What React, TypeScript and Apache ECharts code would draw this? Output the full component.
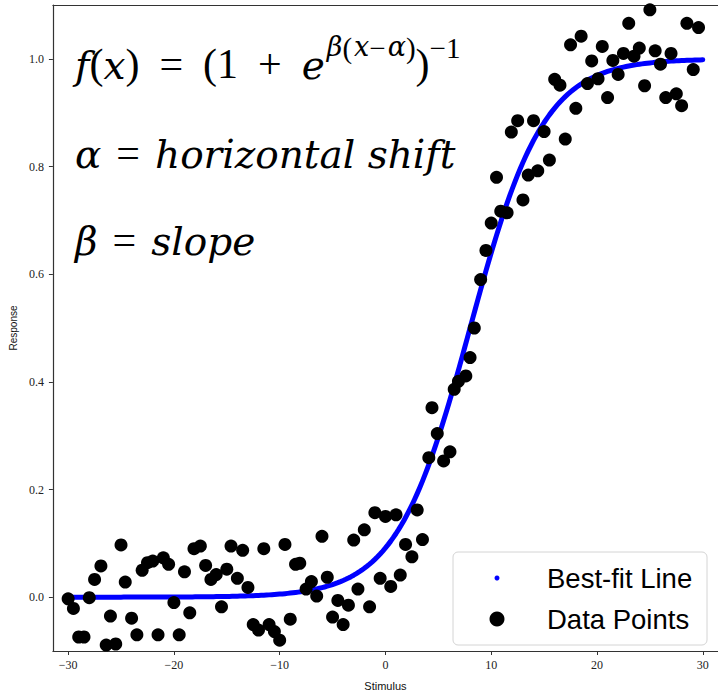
import React, { useEffect, useRef } from "react";
import * as echarts from "echarts";

// Observed stimulus levels and measured responses
const stimulus = [
  -30.0, -29.5, -29.0, -28.5, -28.0, -27.5, -26.9, -26.4, -26.0, -25.5,
  -25.0, -24.6, -24.0, -23.5, -23.0, -22.5, -22.0, -21.5, -21.0, -20.5,
  -20.0, -19.5, -19.0, -18.5, -18.1, -17.5, -17.0, -16.5, -16.0, -15.5,
  -15.0, -14.6, -14.0, -13.5, -13.0, -12.5, -12.0, -11.5, -11.0, -10.5,
  -10.0, -9.5, -9.0, -8.5, -8.1, -7.5, -7.0, -6.5, -6.0, -5.5,
  -5.0, -4.5, -4.0, -3.5, -3.0, -2.6, -2.0, -1.5, -1.0, -0.5,
  0.0, 0.5, 1.0, 1.4, 1.9, 2.5, 3.0, 3.5, 4.1, 4.4,
  4.9, 5.5, 6.1, 6.5, 6.9, 7.6, 8.0, 8.4, 9.0, 9.5,
  10.0, 10.5, 10.9, 11.5, 11.9, 12.5, 13.0, 13.5, 14.0, 14.4,
  15.0, 15.5, 16.0, 16.5, 17.0, 17.5, 18.0, 18.5, 19.1, 19.5,
  20.1, 20.5, 21.0, 21.5, 22.0, 22.5, 23.0, 23.5, 24.0, 24.5,
  25.0, 25.5, 26.0, 26.5, 27.0, 27.5, 28.0, 28.5, 29.1, 29.6,
];

const response = [
  -0.003, -0.021, -0.074, -0.074, -0.001, 0.033, 0.058, -0.089, -0.035, -0.087,
  0.097, 0.028, -0.039, -0.07, 0.05, 0.064, 0.067, -0.07, 0.073, 0.061,
  -0.01, -0.07, 0.047, -0.029, 0.09, 0.095, 0.059, 0.033, 0.042, -0.018,
  0.052, 0.095, 0.035, 0.087, 0.018, -0.051, -0.061, 0.09, -0.051, -0.064,
  -0.08, 0.098, -0.041, 0.061, 0.063, 0.015, 0.029, 0.002, 0.113, 0.037,
  -0.037, -0.006, -0.051, -0.015, 0.106, 0.015, 0.125, -0.018, 0.157, 0.035,
  0.15, 0.02, 0.153, 0.041, 0.098, 0.075, 0.162, 0.107, 0.259, 0.352,
  0.304, 0.253, 0.27, 0.386, 0.401, 0.411, 0.445, 0.5, 0.59, 0.644,
  0.695, 0.78, 0.717, 0.714, 0.864, 0.885, 0.738, 0.784, 0.885, 0.792,
  0.865, 0.812, 0.962, 0.951, 0.851, 1.026, 0.908, 1.042, 0.954, 0.996,
  0.963, 1.023, 0.928, 0.997, 0.971, 1.01, 1.066, 1.005, 1.02, 0.95,
  1.091, 1.015, 0.99, 0.928, 1.01, 0.935, 0.913, 1.066, 0.98, 1.058,
];

// Fitted logistic parameters: f(x) = (1 + e^{beta (x - alpha)})^{-1}
const ALPHA = 8.0;
const BETA = -0.287;
const FIT_FROM = -30;
const FIT_TO = 30;
const FIT_STEP = 0.25;

const xTicks = [-30, -20, -10, 0, 10, 20, 30];
const yTicks = [0, 0.2, 0.4, 0.6, 0.8, 1.0];

const X_MIN = -31.44;
const X_MAX = 31.44;
const Y_MIN = -0.1;
const Y_MAX = 1.1;

const uprightFont = "'Liberation Serif', 'DejaVu Serif', serif";
const italicFont = "'DejaVu Serif', 'Liberation Serif', serif";
const tickFont = "'Liberation Serif', 'DejaVu Serif', serif";
const sansFont = "'Liberation Sans', 'DejaVu Sans', sans-serif";

function logistic(x: number): number {
  return 1 / (1 + Math.exp(BETA * (x - ALPHA)));
}

function buildFitCurve(): number[][] {
  const pts: number[][] = [];
  const n = Math.round((FIT_TO - FIT_FROM) / FIT_STEP);
  for (let i = 0; i <= n; i++) {
    const x = FIT_FROM + i * FIT_STEP;
    pts.push([x, logistic(x)]);
  }
  return pts;
}

// Rich-text styles approximating TeX math typesetting
function mathRich(padTop: number, opGap: number) {
  const upright = { fontFamily: uprightFont, fontSize: 42, fill: "#000", padding: [padTop, 0, 0, 0] };
  const italic = { fontFamily: italicFont, fontSize: 39, fontStyle: "italic", fill: "#000", padding: [padTop + 2, 0, 0, 0] };
  return {
    it: italic,
    rm: upright,
    op: { ...upright, padding: [padTop, opGap, 0, opGap] },
    si: { fontFamily: italicFont, fontSize: 27, fontStyle: "italic", fill: "#000", verticalAlign: "top", padding: [0, 0, 0, 2] },
    sr: { fontFamily: uprightFont, fontSize: 29, fill: "#000", verticalAlign: "top" },
  };
}

const minus = (v: number) => (v < 0 ? "\u2212" + Math.abs(v) : String(v));

export default function App() {
  const ref = useRef<HTMLDivElement>(null);

  useEffect(() => {
    const el = ref.current;
    if (!el) return;
    const chart = echarts.init(el, null, { renderer: "svg" });
    const points = stimulus.map((x, i) => [x, response[i]]);
    const axisColor = "#333333";
    const legendText = { fontFamily: sansFont, fontSize: 27.5, color: "#000", lineHeight: 30 };

    chart.setOption({
      animation: false,
      backgroundColor: "#ffffff",
      grid: { left: 51, top: 5, right: -3, bottom: 36, containLabel: false },
      xAxis: [
        {
          type: "value",
          min: X_MIN,
          max: X_MAX,
          name: "Stimulus",
          nameLocation: "middle",
          nameGap: 29,
          nameTextStyle: { fontFamily: sansFont, fontSize: 11, color: "#111" },
          axisLine: { show: true, onZero: false, lineStyle: { color: axisColor, width: 1.2 } },
          axisTick: { show: true, length: 4, customValues: xTicks, lineStyle: { color: axisColor } },
          axisLabel: {
            customValues: xTicks,
            margin: 8,
            fontFamily: tickFont,
            fontSize: 12,
            color: "#222",
            formatter: (v: number) => minus(v),
          },
          splitLine: { show: false },
        },
        {
          type: "value",
          position: "top",
          min: X_MIN,
          max: X_MAX,
          axisLine: { show: true, onZero: false, lineStyle: { color: axisColor, width: 1.2 } },
          axisTick: { show: false },
          axisLabel: { show: false },
          splitLine: { show: false },
        },
      ],
      yAxis: {
        type: "value",
        min: Y_MIN,
        max: Y_MAX,
        name: "Response",
        nameLocation: "middle",
        nameGap: 34,
        nameTextStyle: { fontFamily: sansFont, fontSize: 10, color: "#111" },
        axisLine: { show: true, onZero: false, lineStyle: { color: axisColor, width: 1.2 } },
        axisTick: { show: true, length: 4, customValues: yTicks, lineStyle: { color: axisColor } },
        axisLabel: {
          customValues: yTicks,
          margin: 9,
          fontFamily: tickFont,
          fontSize: 12,
          color: "#222",
          formatter: (v: number) => v.toFixed(1),
        },
        splitLine: { show: false },
      },
      legend: [
        {
          data: [{ name: "Best-fit Line", icon: "circle" }],
          left: 494.5,
          top: 563,
          padding: 0,
          itemWidth: 90,
          itemHeight: 5,
          selectedMode: false,
          z: 20,
          textStyle: legendText,
        },
        {
          data: [{ name: "Data Points", icon: "circle" }],
          left: 489.5,
          top: 604,
          padding: 0,
          itemWidth: 90,
          itemHeight: 15,
          selectedMode: false,
          z: 20,
          textStyle: legendText,
        },
      ],
      graphic: {
        elements: [
          {
            type: "rect",
            x: 453,
            y: 552,
            z: 10,
            shape: { width: 254, height: 93, r: 5 },
            style: { fill: "rgba(255,255,255,0.85)", stroke: "#d4d4d4", lineWidth: 1 },
          },
          {
            type: "text",
            x: 75,
            y: 33,
            z: 10,
            style: {
              text:
                "{it|f}{rm|(}{it|x}{rm|)}{op|=}{rm|(1}{op|+}{it|e}" +
                "{si|β}{sr|(}{si|x}{sr|\u2212}{si|α}{sr|)}{rm|)}{sr|\u22121}",
              verticalAlign: "top",
              rich: mathRich(10, 20),
            },
          },
          {
            type: "text",
            x: 75,
            y: 132,
            z: 10,
            style: {
              text: "{it|α}{op|=}{it|horizontal shift}",
              verticalAlign: "top",
              rich: mathRich(0, 15),
            },
          },
          {
            type: "text",
            x: 75,
            y: 219,
            z: 10,
            style: {
              text: "{it|β}{op|=}{it|slope}",
              verticalAlign: "top",
              rich: mathRich(0, 15),
            },
          },
        ],
      },
      series: [
        {
          name: "Best-fit Line",
          type: "line",
          data: buildFitCurve(),
          showSymbol: false,
          symbol: "circle",
          color: "#0000ff",
          lineStyle: { color: "#0000ff", width: 5, cap: "round", join: "round" },
          itemStyle: { color: "#0000ff" },
          z: 2,
          silent: true,
        },
        {
          name: "Data Points",
          type: "scatter",
          data: points,
          symbol: "circle",
          symbolSize: 13,
          itemStyle: { color: "#000000", opacity: 1 },
          z: 3,
          silent: true,
        },
      ],
    });

    return () => chart.dispose();
  }, []);

  return (
    <div
      ref={ref}
      style={{ position: "absolute", left: 0, top: 0, width: 718, height: 696, background: "#fff" }}
    />
  );
}
